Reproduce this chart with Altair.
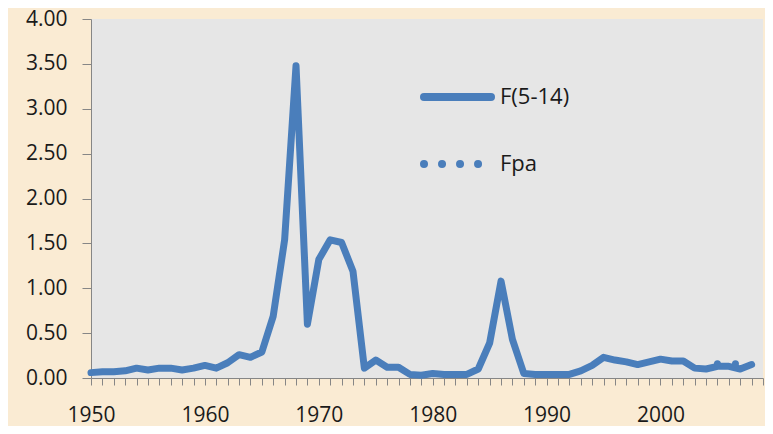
import altair as alt
import pandas as pd

# ---- data ----
years = list(range(1950, 2009))
f_values = [0.06, 0.07, 0.07, 0.08, 0.11, 0.09, 0.11, 0.11, 0.09, 0.11,
            0.14, 0.11, 0.17, 0.26, 0.23, 0.29, 0.69, 1.54, 3.48, 0.60,
            1.32, 1.54, 1.51, 1.19, 0.11, 0.20, 0.12, 0.12, 0.04, 0.03,
            0.05, 0.04, 0.04, 0.04, 0.10, 0.39, 1.08, 0.43, 0.05, 0.04,
            0.04, 0.04, 0.04, 0.08, 0.14, 0.23, 0.20, 0.18, 0.15, 0.18,
            0.21, 0.19, 0.19, 0.11, 0.10, 0.13, 0.13, 0.10, 0.15]
fpa_years = [2005, 2006, 2007, 2008]
fpa_values = [0.16, 0.16, 0.16, 0.16]
x_ticks = list(range(1950, 2010))
y_ticks = [0, 0.5, 1.0, 1.5, 2.0, 2.5, 3.0, 3.5, 4.0]
legend_labels = ["F(5-14)", "Fpa"]

BLUE = "#4A7EBB"
FONT = "Open Sans"

df_f = pd.DataFrame({"year": years, "value": f_values})
df_fpa = pd.DataFrame({"year": fpa_years, "value": fpa_values})

x_axis = alt.Axis(values=x_ticks,
                  labelExpr="datum.value % 10 == 0 ? format(datum.value, 'd') : ''",
                  labelOverlap=False, labelFlush=False, labelBound=False,
                  grid=False, tickSize=7, labelPadding=19, labelFontSize=21,
                  title=None)
y_axis = alt.Axis(values=y_ticks, format=".2f", grid=False,
                  labelFlush=False, labelOverlap=False, tickSize=9,
                  labelPadding=15, labelFontSize=21, title=None)

x_scale = alt.Scale(domain=[1950, 2009], nice=False, zero=False)
y_scale = alt.Scale(domain=[0, 4], nice=False)

f_line = alt.Chart(df_f).mark_line(
    color=BLUE, strokeWidth=7, strokeCap="round", strokeJoin="round"
).encode(x=alt.X("year:Q", scale=x_scale, axis=x_axis),
         y=alt.Y("value:Q", scale=y_scale, axis=y_axis))

fpa_line = alt.Chart(df_fpa).mark_line(
    color=BLUE, strokeWidth=7, strokeCap="round", strokeDash=[0.01, 18]
).encode(x=alt.X("year:Q", scale=x_scale, axis=x_axis),
         y=alt.Y("value:Q", scale=y_scale, axis=y_axis))

# ---- manual legend ----
leg_f = pd.DataFrame({"label": [legend_labels[0]]})
leg_p = pd.DataFrame({"label": [legend_labels[1]]})

leg_f_rule = alt.Chart(leg_f).mark_rule(
    color=BLUE, strokeWidth=8, strokeCap="round"
).encode(x=alt.value(333), x2=alt.value(400), y=alt.value(78))
leg_p_rule = alt.Chart(leg_p).mark_rule(
    color=BLUE, strokeWidth=8, strokeCap="round", strokeDash=[0.01, 18]
).encode(x=alt.value(333), x2=alt.value(388), y=alt.value(145))
leg_f_text = alt.Chart(leg_f).mark_text(
    align="left", baseline="middle", font=FONT, fontSize=22, color="#1a1a1a"
).encode(x=alt.value(409), y=alt.value(78), text="label:N")
leg_p_text = alt.Chart(leg_p).mark_text(
    align="left", baseline="middle", font=FONT, fontSize=22, color="#1a1a1a"
).encode(x=alt.value(409), y=alt.value(145), text="label:N")

chart = alt.layer(
    f_line, fpa_line, leg_f_rule, leg_p_rule, leg_f_text, leg_p_text
).properties(
    width=672, height=359,
    padding={"left": 83, "top": 11, "right": 2, "bottom": 48},
    autosize="none",
    background="#FAEBD3",
).configure_view(
    fill="#E6E6E6", stroke=None
).configure_axis(
    domainColor="#868686", tickColor="#868686", domainWidth=1, tickWidth=1,
    labelFont=FONT, labelFontSize=22, labelColor="#1a1a1a"
)

chart.save("out.html", embed_options={"renderer": "svg", "actions": False})
